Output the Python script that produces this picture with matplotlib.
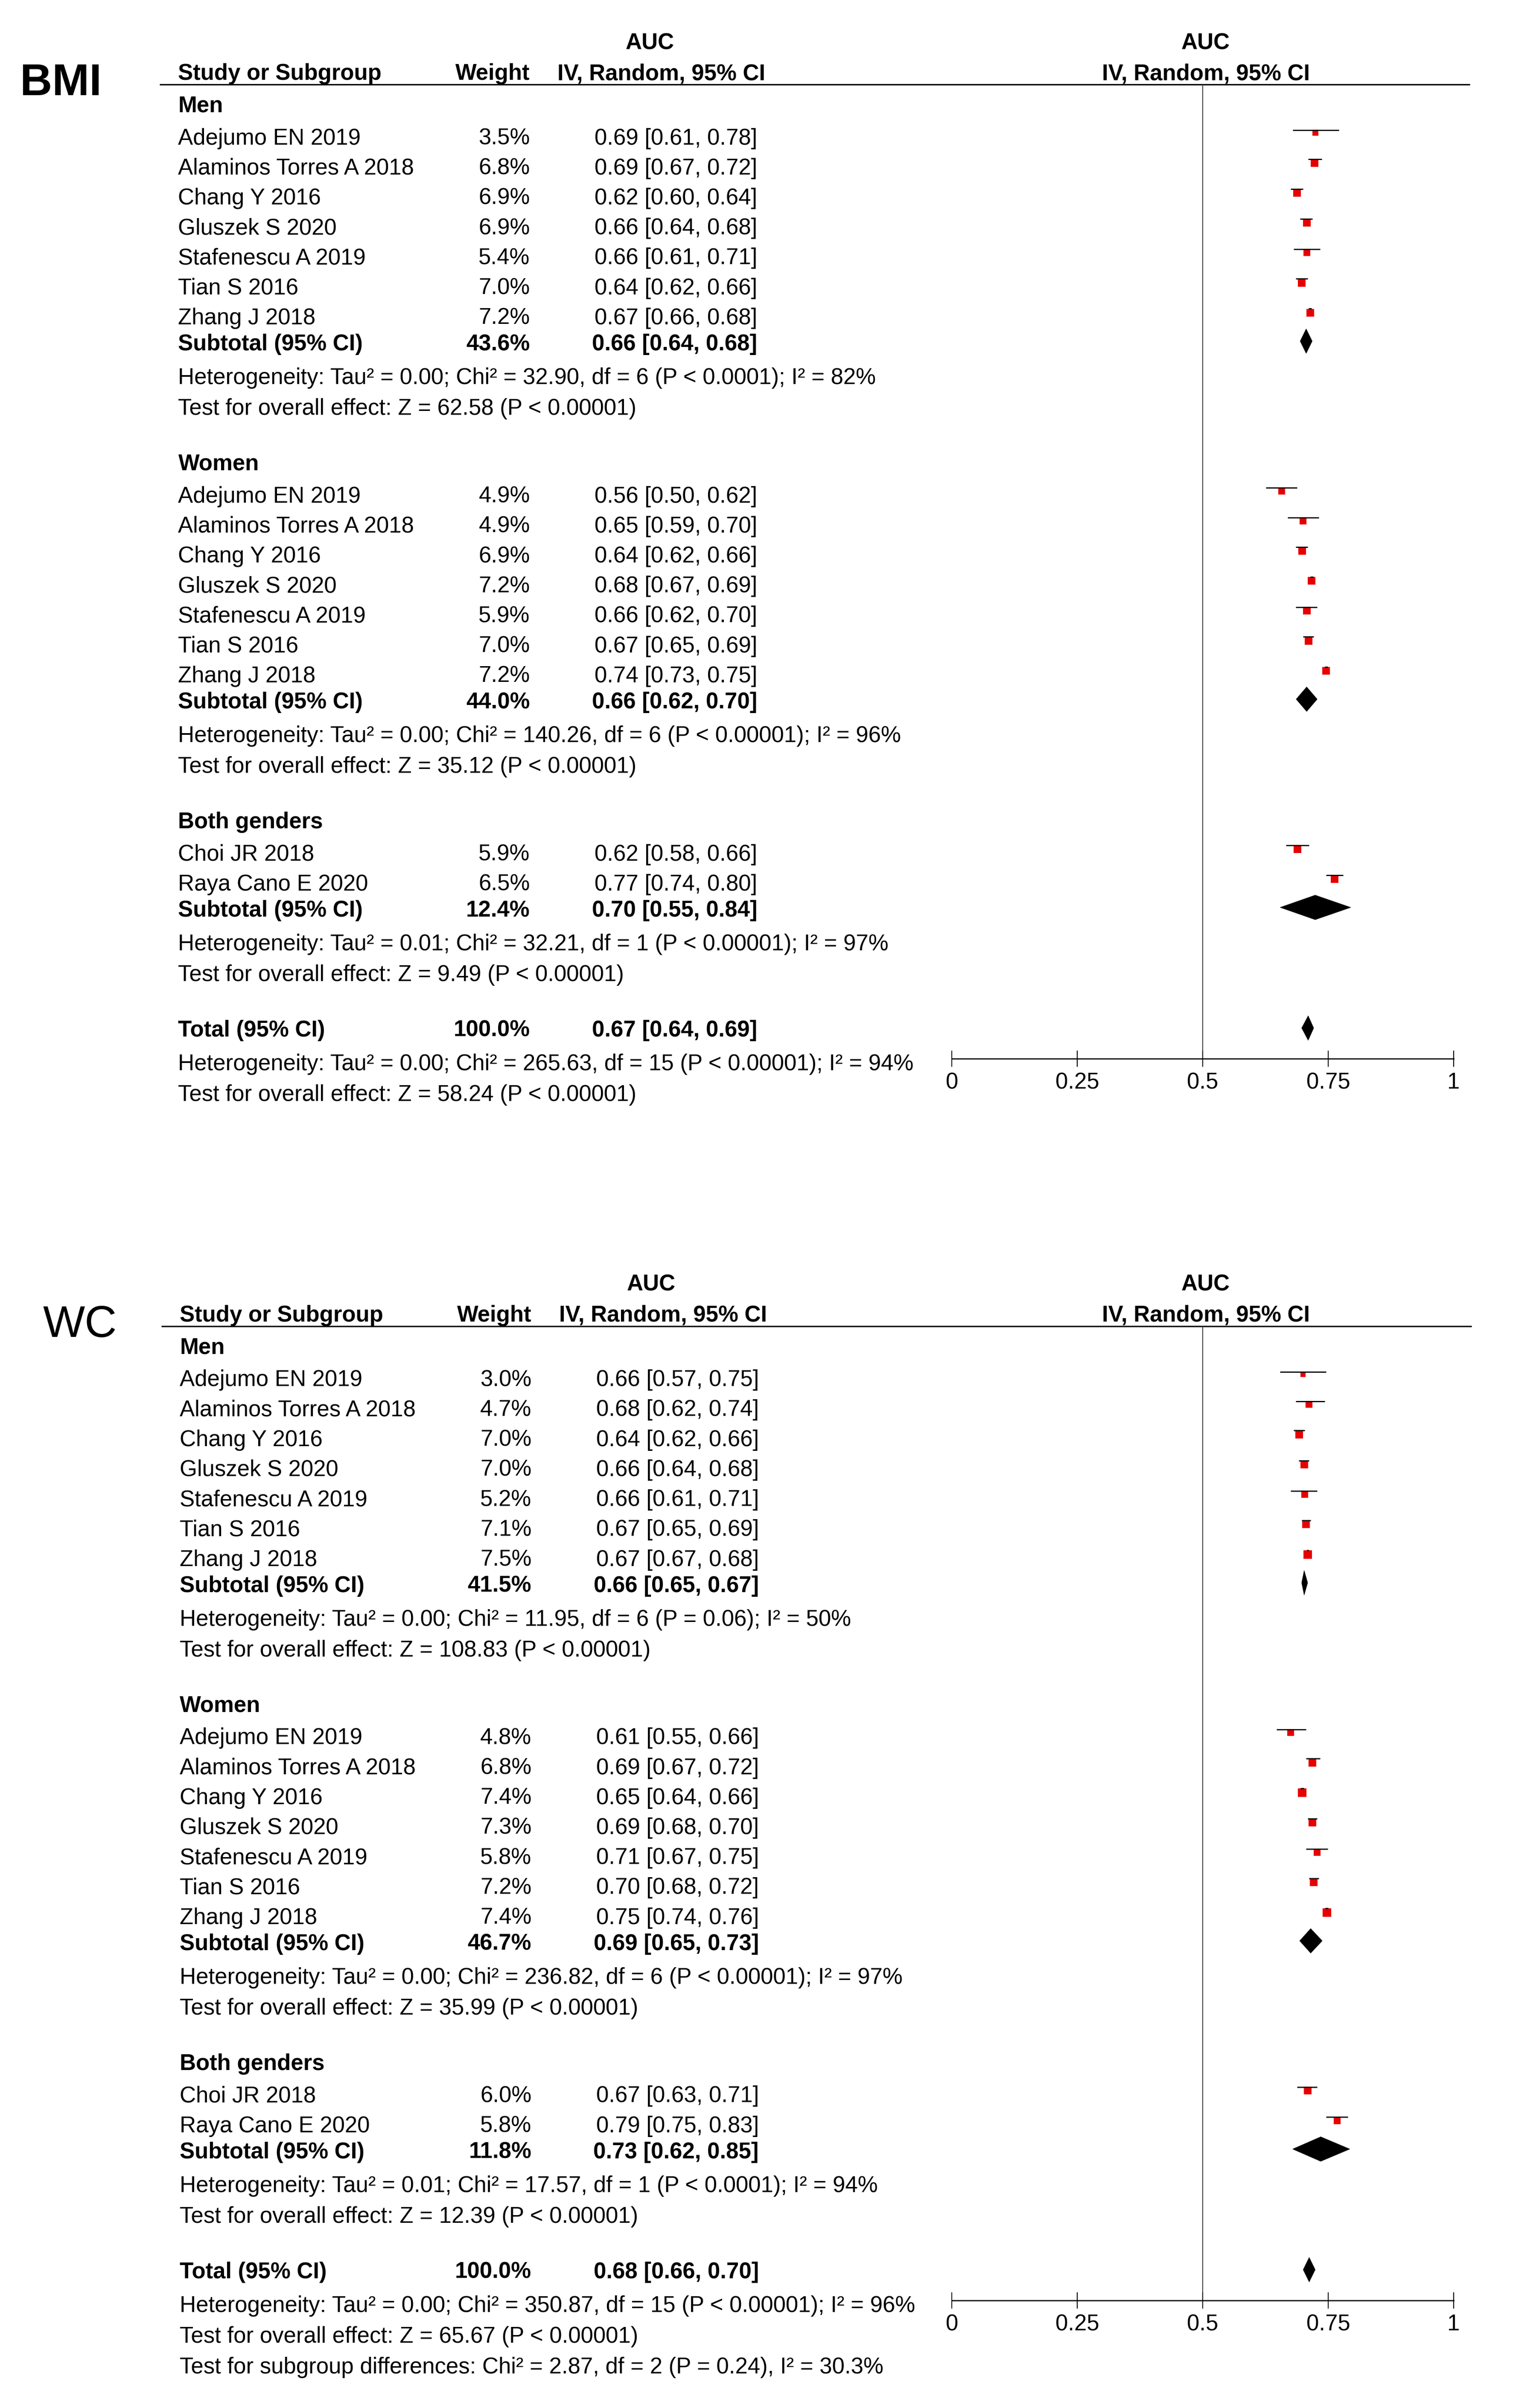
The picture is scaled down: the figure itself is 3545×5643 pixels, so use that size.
import matplotlib.pyplot as plt
from matplotlib.patches import Polygon
import numpy as np

plt.rcParams['font.family'] = ['Liberation Sans', 'DejaVu Sans']

# ---- data ----
groups = ["Men", "Women", "Both genders"]
studies = [
    ["Adejumo EN 2019", "Alaminos Torres A 2018", "Chang Y 2016", "Gluszek S 2020",
     "Stafenescu A 2019", "Tian S 2016", "Zhang J 2018"],
    ["Adejumo EN 2019", "Alaminos Torres A 2018", "Chang Y 2016", "Gluszek S 2020",
     "Stafenescu A 2019", "Tian S 2016", "Zhang J 2018"],
    ["Choi JR 2018", "Raya Cano E 2020"],
]

# BMI panel
bmi_weight = [[3.5, 6.8, 6.9, 6.9, 5.4, 7.0, 7.2],
              [4.9, 4.9, 6.9, 7.2, 5.9, 7.0, 7.2],
              [5.9, 6.5]]
bmi_ci = [["0.69 [0.61, 0.78]", "0.69 [0.67, 0.72]", "0.62 [0.60, 0.64]", "0.66 [0.64, 0.68]",
           "0.66 [0.61, 0.71]", "0.64 [0.62, 0.66]", "0.67 [0.66, 0.68]"],
          ["0.56 [0.50, 0.62]", "0.65 [0.59, 0.70]", "0.64 [0.62, 0.66]", "0.68 [0.67, 0.69]",
           "0.66 [0.62, 0.70]", "0.67 [0.65, 0.69]", "0.74 [0.73, 0.75]"],
          ["0.62 [0.58, 0.66]", "0.77 [0.74, 0.80]"]]
bmi_sub_weight = ["43.6%", "44.0%", "12.4%"]
bmi_sub_ci = ["0.66 [0.64, 0.68]", "0.66 [0.62, 0.70]", "0.70 [0.55, 0.84]"]
bmi_het = ["Heterogeneity: Tau² = 0.00; Chi² = 32.90, df = 6 (P < 0.0001); I² = 82%",
           "Heterogeneity: Tau² = 0.00; Chi² = 140.26, df = 6 (P < 0.00001); I² = 96%",
           "Heterogeneity: Tau² = 0.01; Chi² = 32.21, df = 1 (P < 0.00001); I² = 97%"]
bmi_test = ["Test for overall effect: Z = 62.58 (P < 0.00001)",
            "Test for overall effect: Z = 35.12 (P < 0.00001)",
            "Test for overall effect: Z = 9.49 (P < 0.00001)"]
bmi_total_ci = "0.67 [0.64, 0.69]"
bmi_total_het = "Heterogeneity: Tau² = 0.00; Chi² = 265.63, df = 15 (P < 0.00001); I² = 94%"
bmi_total_test = "Test for overall effect: Z = 58.24 (P < 0.00001)"
# positions as drawn in the forest plot
bmi_est = [[0.724, 0.723, 0.688, 0.707, 0.707, 0.697, 0.714],
           [0.657, 0.700, 0.698, 0.717, 0.707, 0.711, 0.746],
           [0.689, 0.763]]
bmi_lo = [[0.679, 0.710, 0.675, 0.694, 0.681, 0.685, 0.711],
          [0.626, 0.669, 0.685, 0.714, 0.685, 0.700, 0.743],
          [0.666, 0.746]]
bmi_hi = [[0.771, 0.737, 0.700, 0.718, 0.734, 0.709, 0.717],
          [0.688, 0.731, 0.709, 0.720, 0.728, 0.721, 0.749],
          [0.712, 0.780]]
bmi_sub_est = [0.706, 0.707, 0.724]
bmi_sub_lo = [0.694, 0.686, 0.654]
bmi_sub_hi = [0.718, 0.728, 0.795]
bmi_total = (0.710, 0.697, 0.721)

# WC panel
wc_weight = [[3.0, 4.7, 7.0, 7.0, 5.2, 7.1, 7.5],
             [4.8, 6.8, 7.4, 7.3, 5.8, 7.2, 7.4],
             [6.0, 5.8]]
wc_ci = [["0.66 [0.57, 0.75]", "0.68 [0.62, 0.74]", "0.64 [0.62, 0.66]", "0.66 [0.64, 0.68]",
          "0.66 [0.61, 0.71]", "0.67 [0.65, 0.69]", "0.67 [0.67, 0.68]"],
         ["0.61 [0.55, 0.66]", "0.69 [0.67, 0.72]", "0.65 [0.64, 0.66]", "0.69 [0.68, 0.70]",
          "0.71 [0.67, 0.75]", "0.70 [0.68, 0.72]", "0.75 [0.74, 0.76]"],
         ["0.67 [0.63, 0.71]", "0.79 [0.75, 0.83]"]]
wc_sub_weight = ["41.5%", "46.7%", "11.8%"]
wc_sub_ci = ["0.66 [0.65, 0.67]", "0.69 [0.65, 0.73]", "0.73 [0.62, 0.85]"]
wc_het = ["Heterogeneity: Tau² = 0.00; Chi² = 11.95, df = 6 (P = 0.06); I² = 50%",
          "Heterogeneity: Tau² = 0.00; Chi² = 236.82, df = 6 (P < 0.00001); I² = 97%",
          "Heterogeneity: Tau² = 0.01; Chi² = 17.57, df = 1 (P < 0.0001); I² = 94%"]
wc_test = ["Test for overall effect: Z = 108.83 (P < 0.00001)",
           "Test for overall effect: Z = 35.99 (P < 0.00001)",
           "Test for overall effect: Z = 12.39 (P < 0.00001)"]
wc_total_ci = "0.68 [0.66, 0.70]"
wc_total_het = "Heterogeneity: Tau² = 0.00; Chi² = 350.87, df = 15 (P < 0.00001); I² = 96%"
wc_total_test = "Test for overall effect: Z = 65.67 (P < 0.00001)"
wc_subgroup = "Test for subgroup differences: Chi² = 2.87, df = 2 (P = 0.24), I² = 30.3%"
wc_est = [[0.700, 0.712, 0.692, 0.702, 0.703, 0.706, 0.709],
          [0.675, 0.718, 0.698, 0.718, 0.728, 0.721, 0.747],
          [0.709, 0.768]]
wc_lo = [[0.654, 0.685, 0.681, 0.691, 0.675, 0.697, 0.707],
         [0.647, 0.706, 0.695, 0.709, 0.706, 0.712, 0.744],
         [0.688, 0.746]]
wc_hi = [[0.746, 0.743, 0.703, 0.712, 0.728, 0.715, 0.711],
         [0.706, 0.734, 0.701, 0.728, 0.749, 0.731, 0.750],
         [0.728, 0.789]]
wc_sub_est = [0.702, 0.715, 0.735]
wc_sub_lo = [0.697, 0.693, 0.679]
wc_sub_hi = [0.709, 0.738, 0.793]
wc_total = (0.712, 0.700, 0.724)

xticks = [0, 0.25, 0.5, 0.75, 1]
xticklabels = ["0", "0.25", "0.5", "0.75", "1"]

# ---- layout (units of ~3.6 output pixels) ----
W, H = 985, 1567
PX = 3.6
FS = 38
X0, X1 = 619.7, 946.4   # forest axis 0 .. 1
RED = '#e60000'

fig = plt.figure(figsize=(35.45, 56.43), dpi=100)
bg = fig.add_axes([0, 0, 1, 1])
bg.set_xlim(0, W)
bg.set_ylim(H, 0)
bg.axis('off')


def txt(x, y, s, ha='left', bold=False, size=FS):
    bg.text(x, y + 5, s, ha=ha, va='baseline', fontsize=size,
            fontweight='bold' if bold else 'normal', color='black')


def draw_panel(top, dx, label, label_x, label_bold, p):
    name_x, w_x, ci_x = 116 + dx, 345 + dx, 493 + dx
    txt(423 + dx, top - 20, "AUC", ha='center', bold=True)
    txt(785, top - 20, "AUC", ha='center', bold=True)
    txt(name_x, top, "Study or Subgroup", bold=True)
    txt(w_x, top, "Weight", ha='right', bold=True)
    txt(363 + dx, top, "IV, Random, 95% CI", bold=True)
    txt(785, top, "IV, Random, 95% CI", ha='center', bold=True)
    bg.plot([104 + dx, 957 + dx], [top + 8, top + 8], color='black', lw=2.4,
            solid_capstyle='butt')
    bg.text(label_x, top + 15, label, ha='left', va='baseline', fontsize=75,
            fontweight='bold' if label_bold else 'normal')

    ax = fig.add_axes([X0 / W, 1 - (top + 642) / H, (X1 - X0) / W, 634 / H])
    ax.set_xlim(0, 1)
    ax.set_ylim(top + 642, top + 8)
    ax.patch.set_alpha(0)
    for s in ['top', 'left', 'right']:
        ax.spines[s].set_visible(False)
    ax.spines['bottom'].set_linewidth(2.0)
    ax.set_yticks([])
    ax.set_xticks(xticks)
    ax.set_xticklabels(xticklabels, fontsize=FS)
    ax.tick_params(axis='x', direction='inout', length=27, width=1.5, pad=9)
    ax.axvline(0.5, color='#333333', lw=1.4, zorder=1)

    def diamond(est, lo, hi, yd):
        ax.add_patch(Polygon([(lo, yd), (est, yd - 8), (hi, yd), (est, yd + 8)],
                             closed=True, facecolor='black', edgecolor='black',
                             lw=0.5, clip_on=False, zorder=3))

    y = top + 21
    for g in range(3):
        txt(name_x, y, groups[g], bold=True)
        y += 21
        for i, st in enumerate(studies[g]):
            txt(name_x, y, st)
            txt(w_x, y, f"{p['weight'][g][i]:.1f}%", ha='right')
            txt(ci_x, y, p['ci'][g][i], ha='right')
            side = 7.0 * np.sqrt(p['weight'][g][i])
            ysq = y - 2.5
            yl = ysq - side / 2 / PX
            ax.plot([p['est'][g][i]], [ysq], marker='s', ms=side * 0.72,
                    color=RED, mew=0, zorder=2, clip_on=False)
            ax.plot([p['lo'][g][i], p['hi'][g][i]], [yl, yl], color='black',
                    lw=2.0, solid_capstyle='butt', zorder=3, clip_on=False)
            y += 19.5
        ys = y - 2.5
        txt(name_x, ys, "Subtotal (95% CI)", bold=True)
        txt(w_x, ys, p['sub_weight'][g], ha='right', bold=True)
        txt(ci_x, ys, p['sub_ci'][g], ha='right', bold=True)
        diamond(p['sub_est'][g], p['sub_lo'][g], p['sub_hi'][g], ys - 1)
        txt(name_x, ys + 22, p['het'][g])
        txt(name_x, ys + 42, p['test'][g])
        y = ys + 42 + 36

    txt(name_x, y, "Total (95% CI)", bold=True)
    txt(w_x, y, "100.0%", ha='right', bold=True)
    txt(ci_x, y, p['total_ci'], ha='right', bold=True)
    diamond(p['total'][0], p['total'][1], p['total'][2], y - 0.5)
    txt(name_x, y + 22, p['total_het'])
    txt(name_x, y + 42, p['total_test'])
    if p.get('subgroup'):
        txt(name_x, y + 62, p['subgroup'])


bmi = dict(weight=bmi_weight, ci=bmi_ci, sub_weight=bmi_sub_weight, sub_ci=bmi_sub_ci,
           het=bmi_het, test=bmi_test, total_ci=bmi_total_ci, total_het=bmi_total_het,
           total_test=bmi_total_test, est=bmi_est, lo=bmi_lo, hi=bmi_hi,
           sub_est=bmi_sub_est, sub_lo=bmi_sub_lo, sub_hi=bmi_sub_hi, total=bmi_total)
wc = dict(weight=wc_weight, ci=wc_ci, sub_weight=wc_sub_weight, sub_ci=wc_sub_ci,
          het=wc_het, test=wc_test, total_ci=wc_total_ci, total_het=wc_total_het,
          total_test=wc_total_test, est=wc_est, lo=wc_lo, hi=wc_hi,
          sub_est=wc_sub_est, sub_lo=wc_sub_lo, sub_hi=wc_sub_hi, total=wc_total,
          subgroup=wc_subgroup)

draw_panel(47, 0, "BMI", 13, True, bmi)
draw_panel(855, 1, "WC", 28, False, wc)

fig.savefig('out.png', dpi=100, facecolor='white')
